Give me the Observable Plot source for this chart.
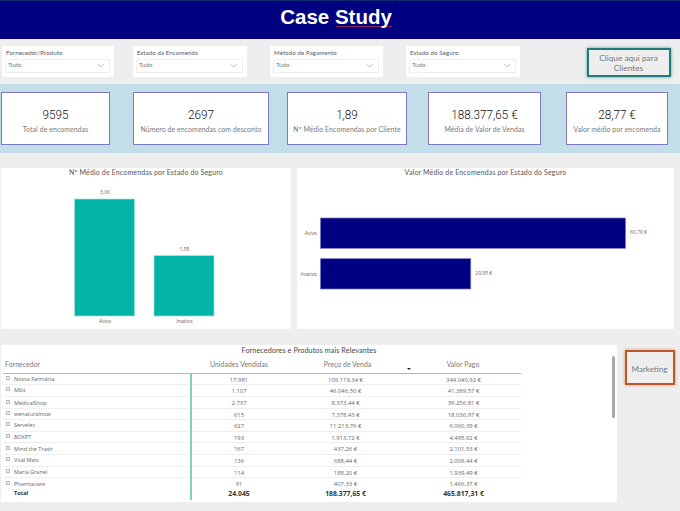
<!DOCTYPE html>
<html><head><meta charset="utf-8">
<script src="https://cdn.jsdelivr.net/npm/d3@7"></script>
<script src="https://cdn.jsdelivr.net/npm/@observablehq/plot@0.6"></script>
<style>
html,body{margin:0;padding:0;background:#eeeeee;overflow:hidden}
#page{position:relative;width:680px;height:511px;background:#eeeeee;font-family:Lato,sans-serif;overflow:hidden}
.abs{position:absolute;box-sizing:border-box}
.filter{background:#fff}
.filter .l{position:absolute;left:4px;top:3px;font-size:6px;color:#555;letter-spacing:.15px;white-space:nowrap}
.filter .d{position:absolute;left:3px;right:4px;top:13px;height:12px;border:1px solid #eee;font-size:6.2px;color:#777;padding-left:2px;line-height:10px}
.card{background:#fff;border:1.4px solid #7d78c2;text-align:center}
.card .v{font-family:Roboto,sans-serif;font-weight:300;font-size:13px;color:#111;position:absolute;left:0;right:0;top:14px;transform:scaleX(.9)}
.card .c{font-size:6.9px;color:#777;position:absolute;left:0;right:0;top:32px;white-space:nowrap;letter-spacing:.1px}
.btn{background:#eee}
.panel{background:#fff}
.ttl{font-size:7px;color:#555;text-align:center;position:absolute;white-space:nowrap;letter-spacing:.15px}
.t{position:absolute;font-size:5.9px;color:#666;white-space:nowrap;line-height:8px;font-family:"Open Sans",sans-serif}
.h{font-family:Lato,sans-serif;font-size:6.8px;color:#777;line-height:10px;letter-spacing:.1px}
svg text{font-family:"Open Sans",sans-serif}
</style></head>
<body><div id="page"></div>
<script>
// ---- data ----
const title = "Case Study";
const filterNames = ["Fornecedor/Produto","Estado da Encomenda","Método de Pagamento","Estado do Seguro"];
const kpiValues = ["9595","2697","1,89","188.377,65 €","28,77 €"];
const kpiLabels = ["Total de encomendas","Número de encomendas com desconto","Nº Médio Encomendas por Cliente","Média de Valor de Vendas","Valor médio por encomenda"];
const estados = ["Ativo","Inativo"];
const mediaEncomendas = [3.06,1.58];
const valorMedio = [60.79,29.95];
const fornecedores = ["Nossa Farmácia","Mbit","MedicalShop","wenaturalnow","Servelec","BOXPT","Mind the Trash","Vital Mais","Maria Granel","Pharmacare"];
const unidades = ["17.981","1.107","2.737","615","627","193","167","136","114","91"];
const precos = ["109.119,34 €","46.046,50 €","8.373,44 €","7.378,43 €","11.213,76 €","1.913,72 €","437,26 €","688,44 €","188,20 €","407,33 €"];
const pagos = ["344.040,92 €","41.389,57 €","39.256,81 €","18.036,97 €","6.060,39 €","4.495,92 €","2.101,53 €","2.009,44 €","1.939,49 €","1.466,37 €"];
const totais = ["24.045","188.377,65 €","465.817,31 €"];
const colunas = ["Unidades Vendidas","Preço de Venda","Valor Pago"];

const page = document.getElementById("page");
function box(x,y,w,h,cls,style,html){
  const e=document.createElement("div");e.className="abs "+(cls||"");
  e.style.cssText=`left:${x}px;top:${y}px;width:${w}px;height:${h}px;`+(style||"");
  if(html!=null)e.innerHTML=html;page.appendChild(e);return e;
}
function txt(cx,y,s,style,anchor,cls){
  const e=document.createElement("div");e.className="t "+(cls||"");
  const tr=anchor==="start"?"":"transform:translateX(-50%);";
  e.style.cssText=`left:${cx}px;top:${y}px;${tr}`+(style||"");e.textContent=s;page.appendChild(e);
}
// header
box(0,0,680,39,"","background:#000080;border-top:1px solid #0a2a6e");
box(336,25.8,56,.6,"","background:#8a2358");
box(0,2,672,30,"",`color:#fff;text-align:center;font:bold 20.5px/30px "Liberation Sans",Arial,sans-serif`,title);
// filters
const fx=[[2,112],[133,114],[270,113],[406,114]];
filterNames.forEach((n,i)=>{
  const chev=`<svg style="position:absolute;right:4px;top:3px" width="8" height="5"><path d="M1 1L4 4L7 1" fill="none" stroke="#aaa" stroke-width=".7"/></svg>`;
  box(fx[i][0],46,fx[i][1],31,"filter","",`<div class="l">${n}</div><div class="d">Tudo${chev}</div>`);
});
box(586.5,48,84.5,29,"btn","border:2px solid #1f7a78;box-shadow:0 0 3px #5a9a98");
txt(628.5,53.5,"Clique aqui para","font-family:Lato;font-size:8.3px;color:#777;line-height:8px");
txt(628.5,64,"Clientes","font-family:Lato;font-size:8.3px;color:#777;line-height:8px");
// KPI band
box(0,84,680,69,"","background:#c3dde9");
const kx=[[1,109],[133,136],[287,120],[428,113],[566,102]];
kpiValues.forEach((v,i)=>box(kx[i][0],92,kx[i][1],53,"card","",`<div class="v">${v}</div><div class="c">${kpiLabels[i]}</div>`));
// chart panels
box(1,168,290,161,"panel");
box(297,168,377,161,"panel");
box(0,168,292,9,"ttl","","Nº Médio de Encomendas por Estado do Seguro");
box(297,168,377,9,"ttl","","Valor Médio de Encomendas por Estado do Seguro");

const euro=v=>v.toFixed(2).replace(".",",")+" €";
const dec=v=>v.toFixed(2).replace(".",",");
const rowsA=estados.map((e,i)=>({e,v:mediaEncomendas[i]}));
const rowsB=estados.map((e,i)=>({e,v:valorMedio[i]}));
const chartA=Plot.plot({
  width:290,height:161,marginTop:31,marginBottom:13,marginLeft:73.5,marginRight:77,
  style:{background:"transparent"},
  x:{domain:estados,label:null,paddingInner:.245,paddingOuter:0,round:false,axis:null},
  y:{domain:[0,3.06],axis:null,label:null},
  marks:[
    Plot.barY(rowsA,{x:"e",y:"v",fill:"#01b4a6",stroke:"#a5e3dd",strokeWidth:.7}),
    Plot.text(rowsA,{x:"e",y:"v",text:d=>dec(d.v),dy:-7,fontSize:5,fill:"#666"}),
    Plot.axisX({domain:estados,anchor:"bottom",tickSize:0,tickPadding:2.5,fontSize:5.2,color:"#666",label:null})
  ]});
chartA.style.cssText="position:absolute;left:1px;top:168px";page.appendChild(chartA);
const chartB=Plot.plot({
  width:377,height:161,marginTop:50,marginBottom:40,marginLeft:23.5,marginRight:48.5,
  style:{background:"transparent"},
  y:{domain:estados,label:null,paddingInner:.255,paddingOuter:0,round:false,axis:null},
  x:{domain:[0,60.79],axis:null,label:null},
  marks:[
    Plot.barX(rowsB,{y:"e",x:"v",fill:"#000080",stroke:"#7d78c2",strokeWidth:.7}),
    Plot.text(rowsB,{y:"e",x:"v",text:d=>euro(d.v),dx:4,dy:-1,textAnchor:"start",fontSize:5,fill:"#666"}),
    Plot.axisY({anchor:"left",tickSize:0,tickPadding:4,fontSize:5.2,color:"#666",label:null})
  ]});
chartB.style.cssText="position:absolute;left:297px;top:168px";page.appendChild(chartB);

// table
box(1,345,616,157,"panel");
txt(309,345.5,"Fornecedores e Produtos mais Relevantes","color:#444;font-size:7.2px","","h");
txt(5,358.5,"Fornecedor","","start","h");
const cx=[239,345.5,463.5];
const hx=[239,347.5,463];
colunas.forEach((c,i)=>txt(hx[i],358.5,c,"","","h"));
box(407,368,5,3,"",`width:0;height:0;border-left:2px solid transparent;border-right:2px solid transparent;border-top:2px solid #222`);
const ry=[379,390.3,402.5,414,425.3,437,448.7,460.3,472,483.5];
ry.forEach((y,i)=>{
  if(i<9)box(4,y+5.2,517,.7,"","background:#efefef");
  box(6,y-3,4,4,"","border:.6px solid #bbb;background:#f4f4f4");
  txt(14,y-4,fornecedores[i],"font-size:5.5px;color:#666","start");
  txt(cx[0],y-3.5,unidades[i]);txt(cx[1],y-3.5,precos[i]);txt(cx[2],y-3.5,pagos[i]);
});
txt(14,489,"Total","font-size:5.6px;color:#333;font-weight:700","start");
totais.forEach((t,i)=>txt(cx[i],490,t,"font-size:6.8px;color:#333;font-weight:700"));
box(3,372.5,518,1.5,"","background:#7fd0c4");
box(190.3,373,1.5,127,"","background:#7fd0c4");
box(612,356,3,62,"","background:#a8a8a8;border-radius:1.5px");
box(624.5,350,50,35,"btn","border:2px solid #c0562a;box-shadow:0 0 3px #d9906d");
txt(649.5,364.5,"Marketing","font-family:Lato;font-size:8px;color:#777;line-height:8px");
</script></body></html>
